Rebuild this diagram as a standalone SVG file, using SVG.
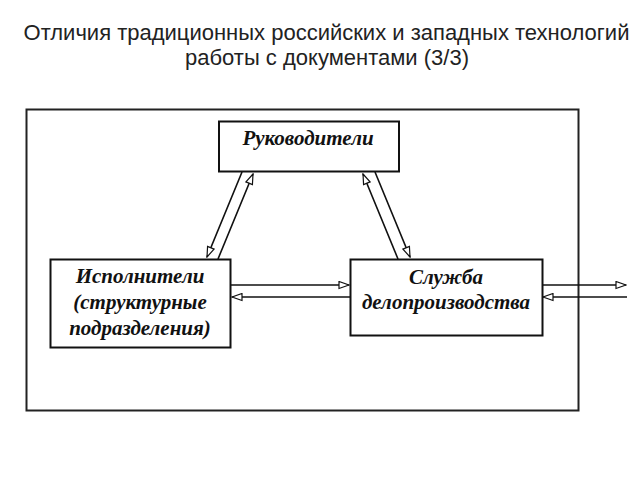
<svg xmlns="http://www.w3.org/2000/svg" width="640" height="480" viewBox="0 0 640 480">
<style>
.title{font-family:"Liberation Sans",Arial,sans-serif;font-size:22px;fill:#222;text-anchor:middle}
.box{fill:#fff;stroke:#111;stroke-width:2}
.lbl{font-family:"Liberation Serif","Times New Roman",serif;font-size:21px;font-weight:bold;font-style:italic;fill:#111;text-anchor:middle}
.conn{stroke:#111;stroke-width:1.6;fill:none;marker-end:url(#ah)}
</style>
<defs>
<marker id="ah" markerUnits="userSpaceOnUse" markerWidth="12" markerHeight="9" refX="11" refY="4.5" orient="auto">
<path d="M1,1 L11,4.5 L1,8 z" fill="#fff" stroke="#111" stroke-width="1.2"/>
</marker>
</defs>
<rect width="640" height="480" fill="#fff"/>
<text class="title" x="326.5" y="40">Отличия традиционных российских и западных технологий</text>
<text class="title" x="327" y="65">работы с документами (3/3)</text>
<rect id="frame" x="26.5" y="109.5" width="552" height="301" fill="none" stroke="#222" stroke-width="2"/>
<g id="connectors">
<line class="conn" x1="242" y1="172" x2="207" y2="257"/>
<line class="conn" x1="218" y1="259" x2="253" y2="174"/>
<line class="conn" x1="398" y1="259" x2="363" y2="174"/>
<line class="conn" x1="375" y1="172" x2="410" y2="257"/>
<line class="conn" x1="231" y1="285" x2="349" y2="285"/>
<line class="conn" x1="350" y1="297" x2="232" y2="297"/>
<line class="conn" x1="542" y1="285" x2="626" y2="285"/>
<line class="conn" x1="627" y1="297" x2="543" y2="297"/>
</g>
<g id="rukovoditeli">
<rect class="box" x="219" y="121.5" width="180" height="50"/>
<text class="lbl" x="308" y="145">Руководители</text>
</g>
<g id="ispolniteli">
<rect class="box" x="50.5" y="259.5" width="180" height="88"/>
<text class="lbl" x="140" y="283">Исполнители</text>
<text class="lbl" x="140" y="309">(структурные</text>
<text class="lbl" x="140" y="335">подразделения)</text>
</g>
<g id="sluzhba">
<rect class="box" x="350.5" y="259.5" width="192" height="76"/>
<text class="lbl" x="446" y="284">Служба</text>
<text class="lbl" x="446" y="309">делопроизводства</text>
</g>
</svg>
